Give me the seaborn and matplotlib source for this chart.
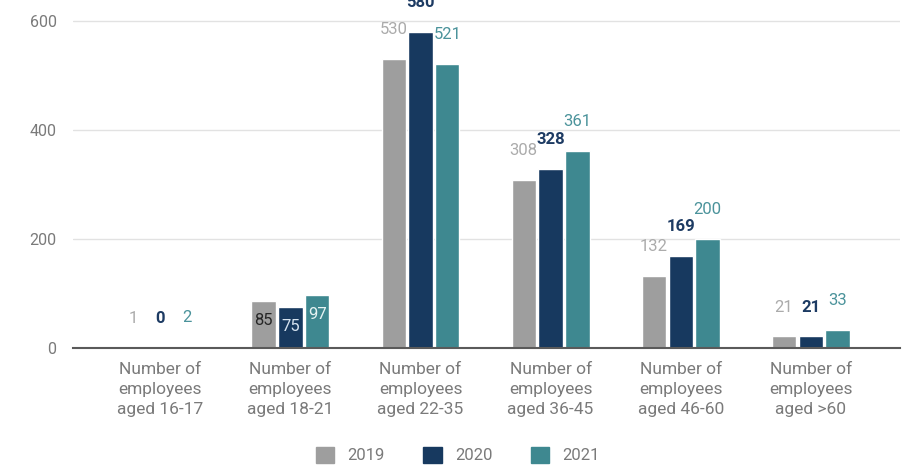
import numpy as np
import pandas as pd
import matplotlib.pyplot as plt
import seaborn as sns
from matplotlib.patches import Patch

categories = [
    "Number of\nemployees\naged 16-17",
    "Number of\nemployees\naged 18-21",
    "Number of\nemployees\naged 22-35",
    "Number of\nemployees\naged 36-45",
    "Number of\nemployees\naged 46-60",
    "Number of\nemployees\naged >60",
]
years = ["2019", "2020", "2021"]
values_2019 = [1, 85, 530, 308, 132, 21]
values_2020 = [0, 75, 580, 328, 169, 21]
values_2021 = [2, 97, 521, 361, 200, 33]
y_ticks = [0, 200, 400, 600]

# categories whose labels sit inside the bars
inside_cats = ["Number of\nemployees\naged 18-21"]

bar_colors = ["#9e9e9e", "#17395f", "#3e8890"]
label_colors = ["#ababab", "#1d3b63", "#4b939b"]
inside_colors = ["#262626", "#d5e2ef", "#e6f3f3"]
label_weights = ["normal", "bold", "normal"]

df = pd.DataFrame({
    "category": categories * 3,
    "year": np.repeat(years, len(categories)),
    "count": values_2019 + values_2020 + values_2021,
})

sns.set_theme(style="white")
plt.rcParams["font.family"] = ["Roboto", "DejaVu Sans"]

fig = plt.figure(figsize=(9.16, 4.7), dpi=100)
ax = fig.add_axes([0.08, 0.26, 0.903, 0.74])

sns.barplot(data=df, x="category", y="count", hue="year", palette=bar_colors,
            width=0.62, gap=0.1, saturation=1, legend=False, ax=ax)

ax.set_xlim(-0.67, 5.69)
ax.set_ylim(0, 638)
ax.set_yticks(y_ticks)
ax.set_xlabel("")
ax.set_ylabel("")
ax.yaxis.grid(True, color="#e2e2e2", lw=1)
ax.set_axisbelow(True)
sns.despine(ax=ax, left=True, top=True, right=True)
ax.spines["bottom"].set_color("#5a5a5a")
ax.spines["bottom"].set_linewidth(1.5)
ax.tick_params(axis="both", length=0, colors="#7a7a7a")
ax.tick_params(axis="y", labelsize=11.5, pad=12)
ax.tick_params(axis="x", labelsize=12.5, pad=10)
for t in ax.get_xticklabels():
    t.set_linespacing(1.45)

for i, cont in enumerate(ax.containers):
    for j, bar in enumerate(cont):
        val = bar.get_height()
        x = bar.get_x() + bar.get_width() / 2
        if categories[j] in inside_cats:
            dy, col, wt = -14, inside_colors[i], "normal"
        else:
            dy, col, wt = 21, label_colors[i], label_weights[i]
        ax.annotate(f"{val:.0f}", (x, val), xytext=(0, dy), textcoords="offset points",
                    ha="center", va="center", fontsize=12, color=col, fontweight=wt)

handles = [Patch(color=c) for c in bar_colors]
fig.legend(handles, years, loc="lower center", bbox_to_anchor=(0.5, -0.018), ncol=3,
           frameon=False, handlelength=1.1, handleheight=1.1, handletextpad=0.8,
           columnspacing=2.3, labelcolor="#7a7a7a", prop={"size": 12})

fig.savefig("out.png", dpi=100)
